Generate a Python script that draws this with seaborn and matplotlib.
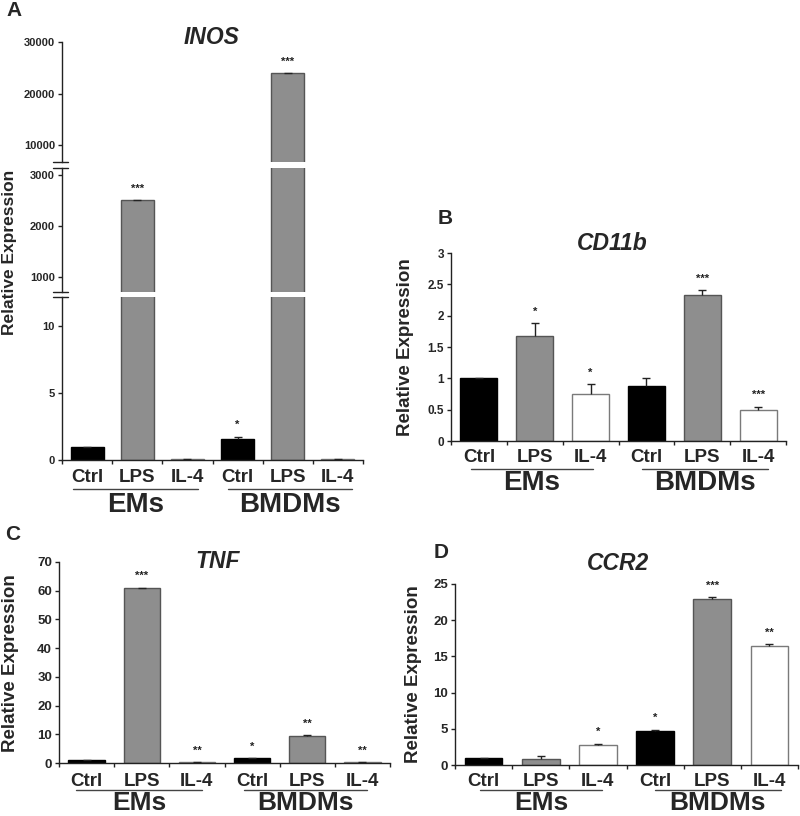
import numpy as np
import pandas as pd
import matplotlib.pyplot as plt
import seaborn as sns
from matplotlib import transforms
from matplotlib.lines import Line2D

sns.set_theme(style='ticks')
plt.rcParams['font.family'] = ['Liberation Sans', 'DejaVu Sans']
plt.rcParams['font.weight'] = 'bold'

# categories
cells = ['EMs', 'EMs', 'EMs', 'BMDMs', 'BMDMs', 'BMDMs']
treats = ['Ctrl', 'LPS', 'IL-4', 'Ctrl', 'LPS', 'IL-4']

# values (mean, upper error, significance)
inos_vals = [1.0, 2500, 0.05, 1.55, 23900, 0.05]
inos_errs = [0.0, 0.0, 0.03, 0.2, 0.0, 0.03]
inos_stars = ['', '***', '', '*', '***', '']

cd11b_vals = [1.0, 1.68, 0.75, 0.87, 2.33, 0.5]
cd11b_errs = [0.0, 0.2, 0.16, 0.13, 0.08, 0.05]
cd11b_stars = ['', '*', '*', '', '***', '***']

tnf_vals = [1.0, 60.8, 0.3, 1.6, 9.4, 0.25]
tnf_errs = [0.05, 0.3, 0.1, 0.2, 0.2, 0.1]
tnf_stars = ['', '***', '**', '*', '**', '**']

ccr2_vals = [1.0, 0.8, 2.76, 4.7, 22.9, 16.5]
ccr2_errs = [0.0, 0.4, 0.2, 0.2, 0.3, 0.15]
ccr2_stars = ['', '', '*', '*', '***', '**']

palette = {'Ctrl': '#000000', 'LPS': '#8e8e8e', 'IL-4': '#ffffff'}
edges = {'Ctrl': '#000000', 'LPS': '#555555', 'IL-4': '#7a7a7a'}
ink = '#222222'

W, H = 800, 816
fig = plt.figure(figsize=(W / 100, H / 100), dpi=100)


def rect(x0, x1, y0, y1):
    return [x0 / W, 1 - y1 / H, (x1 - x0) / W, (y1 - y0) / H]


def draw_bars(ax, vals, errs, stars, star_size=8):
    df = pd.DataFrame({'pos': [c + ' ' + t for c, t in zip(cells, treats)],
                       'treat': treats, 'val': vals})
    sns.barplot(data=df, x='pos', y='val', hue='treat', palette=palette,
                hue_order=['Ctrl', 'LPS', 'IL-4'], order=list(df['pos']),
                dodge=False, width=0.66, legend=False, ax=ax, zorder=2)
    face_to_edge = {tuple(np.round(plt.matplotlib.colors.to_rgba(palette[k]), 3)): edges[k]
                    for k in palette}
    for p in ax.patches:
        key = tuple(np.round(p.get_facecolor(), 3))
        p.set_edgecolor(face_to_edge.get(key, ink))
        p.set_linewidth(1.0)
    x = np.arange(len(vals))
    eb = ax.errorbar(x, vals, yerr=[np.zeros(len(vals)), errs], fmt='none',
                     ecolor=ink, elinewidth=1, capsize=3, capthick=1, zorder=3)
    eb[1][0].set_visible(False)
    lo, hi = ax.get_ylim()
    for i, s in enumerate(stars):
        top = vals[i] + errs[i]
        if s and lo <= top < hi:
            ax.annotate(s, xy=(i, top), xytext=(0, 6), textcoords='offset points',
                        ha='center', va='baseline', fontsize=star_size,
                        color=ink, annotation_clip=False)


def style_axis(ax, yticks, ylabels, ysize, show_x=True):
    for s in ['top', 'right']:
        ax.spines[s].set_visible(False)
    for s in ['left', 'bottom']:
        ax.spines[s].set_color(ink)
        ax.spines[s].set_linewidth(1.0)
    ax.set_xlabel('')
    ax.set_ylabel('')
    ax.set_xlim(-0.5, 5.5)
    ax.set_yticks(yticks)
    ax.set_yticklabels(ylabels, fontsize=ysize, fontweight='bold')
    ax.tick_params(axis='y', length=3, width=1, color=ink, pad=2, left=True)
    if show_x:
        ax.set_xticks(np.arange(-0.5, 6, 1))
        ax.set_xticklabels([])
        ax.tick_params(axis='x', length=3, width=1, color=ink, bottom=True)
    else:
        ax.spines['bottom'].set_visible(False)
        ax.set_xticks([])


def group_labels(ax, off, spans, grp_size=20):
    cat_off, line_off, grp_off = off
    for i, t in enumerate(treats):
        tr = transforms.offset_copy(ax.get_xaxis_transform(), fig=fig, y=-cat_off, units='dots')
        ax.text(i, 0, t, transform=tr, ha='center', va='center', fontsize=13.5, fontweight='bold')
    tr_line = transforms.offset_copy(ax.get_xaxis_transform(), fig=fig, y=-line_off, units='dots')
    tr_grp = transforms.offset_copy(ax.get_xaxis_transform(), fig=fig, y=-grp_off, units='dots')
    for name, (a, b) in zip(['EMs', 'BMDMs'], spans):
        ax.plot([a, b], [0, 0], transform=tr_line, color='#444444', lw=1, clip_on=False)
        ax.text((a + b) / 2, 0, name, transform=tr_grp, ha='center', va='center',
                fontsize=grp_size, fontweight='bold')


# ---- Panel A: INOS with broken y axis ----
ax_top = fig.add_axes(rect(62, 363, 42, 162))
ax_mid = fig.add_axes(rect(62, 363, 168, 292))
ax_bot = fig.add_axes(rect(62, 363, 297, 460))
ax_top.set_ylim(6700, 30000)
ax_mid.set_ylim(706, 3137)
ax_bot.set_ylim(0, 12.2)
for ax in (ax_top, ax_mid, ax_bot):
    draw_bars(ax, inos_vals, inos_errs, inos_stars)
style_axis(ax_top, [10000, 20000, 30000], ['10000', '20000', '30000'], 8, show_x=False)
style_axis(ax_mid, [1000, 2000, 3000], ['1000', '2000', '3000'], 8, show_x=False)
style_axis(ax_bot, [0, 5, 10], ['0', '5', '10'], 8)
ax_top.set_ylim(6700, 30000)
ax_mid.set_ylim(706, 3137)
ax_bot.set_ylim(0, 12.2)
group_labels(ax_bot, (18, 29, 45), [(-0.28, 2.22), (2.81, 5.28)])
for yb in (162, 168, 292, 297):
    fig.add_artist(Line2D([53 / W, 68 / W], [1 - yb / H, 1 - yb / H],
                          transform=fig.transFigure, color=ink, lw=1))
fig.text(212 / W, 1 - 37 / H, 'INOS', ha='center', va='center', fontsize=16.5,
         fontweight='bold', style='italic')
fig.text(14 / W, 1 - 11 / H, 'A', ha='center', va='center', fontsize=15, fontweight='bold')
fig.text(10 / W, 1 - 252 / H, 'Relative Expression', rotation=90, ha='center',
         va='center', fontsize=12.5, fontweight='bold')

# ---- Panel B: CD11b ----
ax_b = fig.add_axes(rect(451, 786, 253, 441))
ax_b.set_ylim(0, 3)
draw_bars(ax_b, cd11b_vals, cd11b_errs, cd11b_stars)
style_axis(ax_b, np.arange(0, 3.01, 0.5), ['0', '0.5', '1', '1.5', '2', '2.5', '3'], 8.5)
ax_b.set_ylim(0, 3)
group_labels(ax_b, (17, 28, 42), [(-0.14, 2.04), (2.92, 5.18)])
fig.text(612 / W, 1 - 243 / H, 'CD11b', ha='center', va='center', fontsize=16.5,
         fontweight='bold', style='italic')
fig.text(445 / W, 1 - 218 / H, 'B', ha='center', va='center', fontsize=15, fontweight='bold')
fig.text(405 / W, 1 - 347 / H, 'Relative Expression', rotation=90, ha='center',
         va='center', fontsize=13.5, fontweight='bold')

# ---- Panel C: TNF ----
ax_c = fig.add_axes(rect(59, 390, 562, 763))
ax_c.set_ylim(0, 70)
draw_bars(ax_c, tnf_vals, tnf_errs, tnf_stars)
style_axis(ax_c, np.arange(0, 71, 10), [str(v) for v in range(0, 71, 10)], 9.5)
ax_c.set_ylim(0, 70)
group_labels(ax_c, (18, 27, 40), [(-0.19, 2.1), (2.85, 5.08)], grp_size=19)
fig.text(218 / W, 1 - 562 / H, 'TNF', ha='center', va='center', fontsize=16.5,
         fontweight='bold', style='italic')
fig.text(13 / W, 1 - 535 / H, 'C', ha='center', va='center', fontsize=15, fontweight='bold')
fig.text(11 / W, 1 - 663 / H, 'Relative Expression', rotation=90, ha='center',
         va='center', fontsize=13.5, fontweight='bold')

# ---- Panel D: CCR2 ----
ax_d = fig.add_axes(rect(455, 798, 584, 765))
ax_d.set_ylim(0, 25)
draw_bars(ax_d, ccr2_vals, ccr2_errs, ccr2_stars)
style_axis(ax_d, np.arange(0, 26, 5), [str(v) for v in range(0, 26, 5)], 9.5)
ax_d.set_ylim(0, 25)
group_labels(ax_d, (16, 25, 38), [(-0.06, 2.08), (3.0, 5.2)], grp_size=19)
fig.text(618 / W, 1 - 563 / H, 'CCR2', ha='center', va='center', fontsize=16.5,
         fontweight='bold', style='italic')
fig.text(441 / W, 1 - 552 / H, 'D', ha='center', va='center', fontsize=15, fontweight='bold')
fig.text(414 / W, 1 - 674 / H, 'Relative Expression', rotation=90, ha='center',
         va='center', fontsize=13.5, fontweight='bold')

fig.savefig('out.png', dpi=100, facecolor='white')
plt.close(fig)
